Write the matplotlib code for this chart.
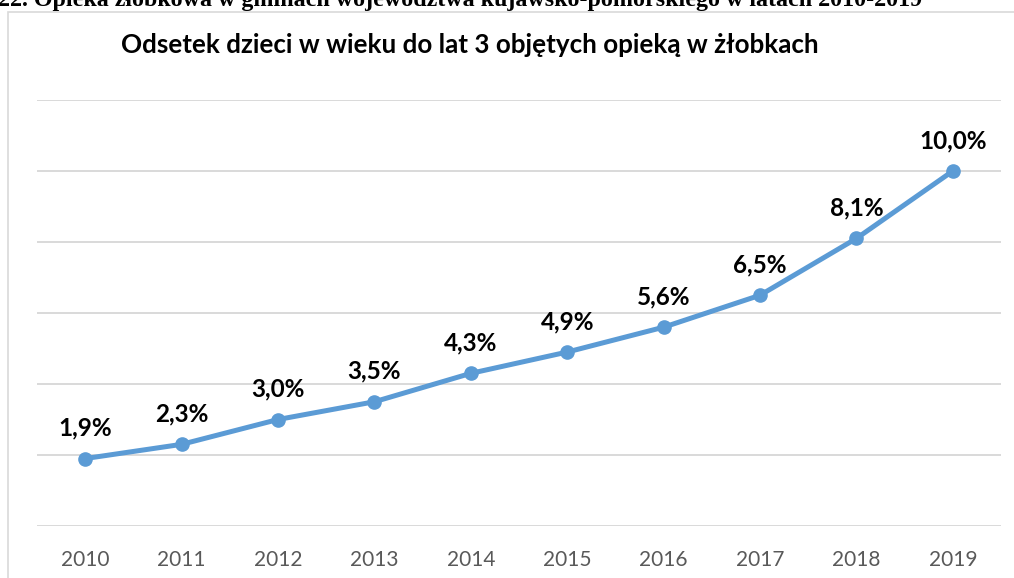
import matplotlib.pyplot as plt
from matplotlib.patches import Rectangle

years = ['2010', '2011', '2012', '2013', '2014', '2015', '2016', '2017', '2018', '2019']
share = [1.9, 2.3, 3.0, 3.5, 4.3, 4.9, 5.6, 6.5, 8.1, 10.0]
labels = ['1,9%', '2,3%', '3,0%', '3,5%', '4,3%', '4,9%', '5,6%', '6,5%', '8,1%', '10,0%']

W, H = 1014, 578
fig = plt.figure(figsize=(W / 100, H / 100), dpi=100)

# chart frame (runs past the right and bottom edges)
fig.patches.append(Rectangle((8 / W, -0.1), 1.2, (H - 12) / H + 0.1,
                             transform=fig.transFigure, fill=False,
                             edgecolor='#d9d9d9', linewidth=1.2))

# document caption, cut off at the top edge
fig.text(-2 / W, (H - 6) / H, '22. Opieka żłobkowa w gminach województwa kujawsko-pomorskiego w latach 2010-2019',
         family='Liberation Serif', fontweight='bold', fontsize=17.3, ha='left', va='baseline')

fig.text(470 / W, (H - 53) / H, 'Odsetek dzieci w wieku do lat 3 objętych opieką w żłobkach',
         family='Lato', fontweight='bold', fontsize=18.7, ha='center', va='baseline')

ax = fig.add_axes([37 / W, (H - 526) / H, 964 / W, 426 / H])
x = list(range(len(years)))
ax.plot(x, share, color='#5b9bd5', linewidth=3.6, marker='o', markersize=9.5,
        solid_capstyle='round', zorder=3)
for xi, v, lab in zip(x, share, labels):
    ax.annotate(lab, (xi, v), xytext=(0, 16.5), textcoords='offset points',
                ha='center', va='baseline', family='Lato', fontweight='bold', fontsize=17.5)

ax.set_xlim(-0.5, 9.5)
ax.set_ylim(0, 12)
ax.set_yticks(range(0, 13, 2))
ax.set_yticklabels([])
ax.set_xticks(x)
ax.set_xticklabels(years, family='Lato', fontsize=15, color='#595959')
ax.tick_params(length=0, pad=17)
ax.grid(axis='y', color='#d9d9d9', linewidth=1.4)
ax.set_axisbelow(True)
for s in ax.spines.values():
    s.set_visible(False)

fig.savefig('out.png', dpi=100)
